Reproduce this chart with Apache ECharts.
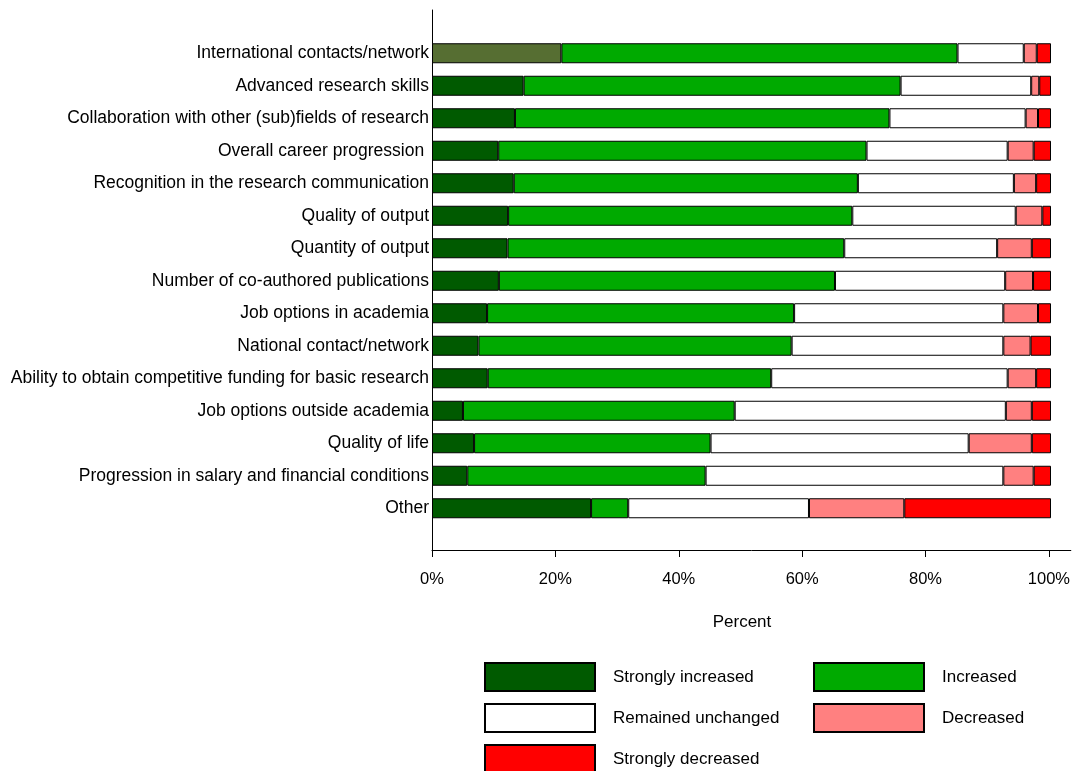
<!DOCTYPE html>
<html>
<head>
<meta charset="utf-8">
<script src="https://cdn.jsdelivr.net/npm/echarts@6/dist/echarts.min.js"></script>
<style>
  html, body { margin: 0; padding: 0; background: #fff; }
  #main { width: 1073px; height: 771px; }
</style>
</head>
<body>
<div id="main"></div>
<script>
var categories = [
    'International contacts/network',
    'Advanced research skills',
    'Collaboration with other (sub)fields of research',
    'Overall career progression ',
    'Recognition in the research communication',
    'Quality of output',
    'Quantity of output',
    'Number of co-authored publications',
    'Job options in academia',
    'National contact/network',
    'Ability to obtain competitive funding for basic research',
    'Job options outside academia',
    'Quality of life',
    'Progression in salary and financial conditions',
    'Other'
];

var stronglyIncreased = [20.9, 14.8, 13.4, 10.7, 13.2, 12.3, 12.2, 10.8, 8.9, 7.5, 9.0, 5.0, 6.8, 5.7, 25.7];
var increased         = [64.0, 60.9, 60.5, 59.5, 55.6, 55.6, 54.4, 54.3, 49.6, 50.6, 45.8, 43.9, 38.2, 38.5, 6.0];
var unchanged         = [10.7, 21.1, 22.0, 22.8, 25.2, 26.4, 24.7, 27.5, 33.8, 34.2, 38.2, 43.8, 41.7, 48.1, 29.2];
var decreased         = [2.1, 1.3, 2.0, 4.2, 3.6, 4.3, 5.6, 4.5, 5.6, 4.4, 4.6, 4.2, 10.2, 4.9, 15.4];
var stronglyDecreased = [2.3, 1.9, 2.1, 2.8, 2.4, 1.4, 3.1, 2.9, 2.1, 3.3, 2.4, 3.1, 3.1, 2.8, 23.7];

var tickValues = [0, 20, 40, 60, 80, 100];

var chartDom = document.getElementById('main');
var myChart = echarts.init(chartDom);
var option;

// axis line runs a bit past 100% in the original
var xMax = 100 * 641 / 619;
var font = 'Liberation Sans, Arial, sans-serif';

function barSeries(name, color, values) {
    return {
        name: name,
        type: 'bar',
        stack: 'total',
        xAxisIndex: 0,
        yAxisIndex: 0,
        barWidth: 20,
        animation: false,
        itemStyle: { color: color, borderColor: '#000', borderWidth: 1 },
        data: values
    };
}

// one legend per swatch so they sit in a fixed 2-column layout
function legendItem(name, left, top) {
    return {
        left: left, top: top, padding: 0,
        itemWidth: 110, itemHeight: 28,
        icon: 'rect',
        selectedMode: false,
        textStyle: { color: '#000', fontSize: 17, fontFamily: font, padding: [0, 0, 0, 13] },
        data: [name]
    };
}

var siData = stronglyIncreased.map(function (v, i) {
    // first row is drawn in an olive tone
    return i === 0 ? { value: v, itemStyle: { color: '#566e32' } } : v;
});

option = {
    backgroundColor: '#fff',
    textStyle: { fontFamily: font },
    grid: [
        { left: 432, right: 0, top: 37, height: 487.5 },
        { left: 432, right: 0, top: 10, height: 540 }
    ],
    xAxis: [
        {
            type: 'value', gridIndex: 0, min: 0, max: xMax,
            show: false
        },
        {
            type: 'value', gridIndex: 1, min: 0, max: xMax,
            axisLine: { show: true, lineStyle: { color: '#000', width: 1 } },
            axisTick: { show: true, length: 7, lineStyle: { color: '#000' }, customValues: tickValues },
            axisLabel: {
                margin: 21, color: '#000', fontSize: 16.5, fontFamily: font,
                customValues: tickValues,
                formatter: function (v) { return Math.round(v) + '%'; }
            },
            splitLine: { show: false }
        }
    ],
    yAxis: [
        {
            type: 'category', gridIndex: 0, inverse: true,
            data: categories,
            axisLine: { show: false },
            axisTick: { show: false },
            axisLabel: { color: '#000', fontSize: 17.5, fontFamily: font, margin: 3 }
        },
        {
            type: 'value', gridIndex: 1, min: 0, max: 1,
            axisLine: { show: true, lineStyle: { color: '#000', width: 1 } },
            axisTick: { show: false },
            axisLabel: { show: false },
            splitLine: { show: false }
        }
    ],
    legend: [
        legendItem('Strongly increased', 484, 662),
        legendItem('Increased', 813, 662),
        legendItem('Remained unchanged', 484, 703),
        legendItem('Decreased', 813, 703),
        legendItem('Strongly decreased', 484, 744)
    ],
    graphic: [
        {
            type: 'text', x: 742, y: 622,
            style: {
                text: 'Percent', fill: '#000', font: '17px ' + font,
                textAlign: 'center', textVerticalAlign: 'middle'
            }
        }
    ],
    series: [
        barSeries('Strongly increased', '#005a00', siData),
        barSeries('Increased', '#00aa00', increased),
        barSeries('Remained unchanged', '#ffffff', unchanged),
        barSeries('Decreased', '#ff8080', decreased),
        barSeries('Strongly decreased', '#ff0000', stronglyDecreased)
    ]
};

option && myChart.setOption(option);
</script>
</body>
</html>
